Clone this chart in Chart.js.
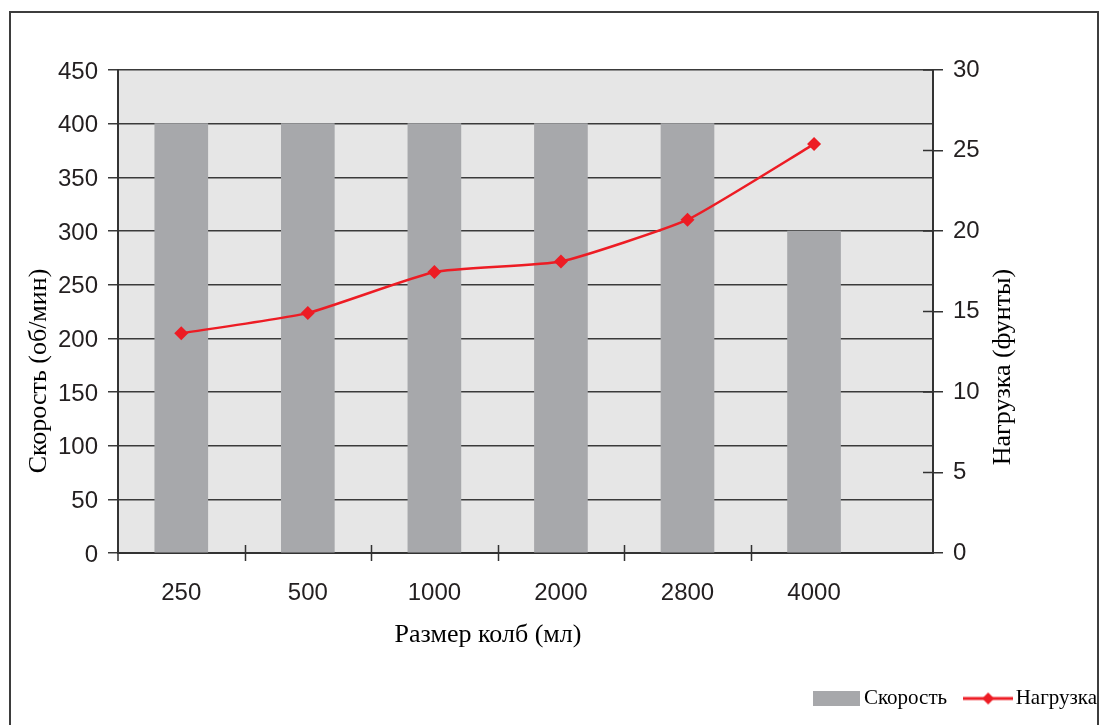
<!DOCTYPE html>
<html lang="ru">
<head>
<meta charset="utf-8">
<title>Скорость и нагрузка</title>
<script src="https://cdn.jsdelivr.net/npm/chart.js@4.4.1/dist/chart.umd.min.js"></script>
<style>
  html, body { margin: 0; padding: 0; background: #fff; overflow: hidden; }
  #frame { position: absolute; left: 9px; top: 11px; width: 1086px; height: 800px; border: 2px solid #3d3d3d; }
  #wrap { position: absolute; left: 0; top: 0; width: 1102px; height: 725px; }
</style>
</head>
<body>
<div id="frame"></div>
<div id="wrap"><canvas id="chart"></canvas></div>
<script>
// flask sizes (ml), shaker speed (rpm) and load (lb)
const sizes = ['250', '500', '1000', '2000', '2800', '4000'];
const speed = [400, 400, 400, 400, 400, 300];
const load = [13.65, 14.9, 17.45, 18.1, 20.7, 25.4];
const speedTicks = [0, 50, 100, 150, 200, 250, 300, 350, 400, 450];
const loadTicks = [0, 5, 10, 15, 20, 25, 30];

// plot box geometry
const plotTop = 70;
const plotBottom = 553;
const plotLeft = 118;
const plotRight = 933;
const padRight = -19;
const padBottom = 6;
const xMax = 6.44; // category axis leaves an empty strip on the right

const tickFont = { family: 'Liberation Sans', size: 24 };
const titleFont = '26px "Liberation Serif"';
const barColor = '#a7a8ab';
const lineColor = '#ed1c24';

// legend icons: grey block and red line with a diamond
function barIcon() {
  const c = document.createElement('canvas');
  c.width = 47; c.height = 15;
  const g = c.getContext('2d');
  g.fillStyle = barColor;
  g.fillRect(0, 0, 47, 15);
  return c;
}
function lineIcon() {
  const c = document.createElement('canvas');
  c.width = 50; c.height = 14;
  const g = c.getContext('2d');
  g.strokeStyle = lineColor;
  g.lineWidth = 3;
  g.beginPath(); g.moveTo(0, 7); g.lineTo(50, 7); g.stroke();
  g.fillStyle = lineColor;
  g.beginPath(); g.moveTo(25, 1); g.lineTo(31, 7); g.lineTo(25, 13); g.lineTo(19, 7); g.closePath(); g.fill();
  return c;
}
const legendIcons = [barIcon(), lineIcon()];

const plotFrame = {
  id: 'plotFrame',
  beforeDraw(chart) {
    const { ctx, chartArea: a } = chart;
    ctx.save();
    ctx.fillStyle = '#e6e6e6';
    ctx.fillRect(a.left, a.top, a.right - a.left, a.bottom - a.top);
    ctx.restore();
  },
  afterDraw(chart) {
    const { ctx, chartArea: a, scales } = chart;
    ctx.save();
    ctx.strokeStyle = '#333';
    ctx.lineWidth = 1.5;
    ctx.beginPath();
    // category boundary ticks across the x axis
    for (let i = 1; i < sizes.length; i++) {
      const x = Math.round(scales.x.getPixelForValue(i)) + 0.5;
      ctx.moveTo(x, a.bottom - 8);
      ctx.lineTo(x, a.bottom + 8);
    }
    // inner half of the right axis ticks
    loadTicks.forEach(v => {
      const y = scales.y1.getPixelForValue(v);
      ctx.moveTo(a.right - 10, y);
      ctx.lineTo(a.right, y);
    });
    // small stub at the origin and a tick under it
    ctx.moveTo(a.left, a.bottom);
    ctx.lineTo(a.left + 8, a.bottom);
    ctx.moveTo(a.left, a.bottom);
    ctx.lineTo(a.left, a.bottom + 8);
    ctx.stroke();

    // axis titles
    ctx.fillStyle = '#000';
    ctx.font = titleFont;
    ctx.textAlign = 'center';
    ctx.textBaseline = 'middle';
    ctx.fillText('Размер колб (мл)', a.left + 370, a.bottom + 82);
    ctx.save();
    ctx.translate(a.left - 79, a.bottom - 182);
    ctx.rotate(-Math.PI / 2);
    ctx.fillText('Скорость (об/мин)', 0, 0);
    ctx.restore();
    ctx.save();
    ctx.translate(a.right + 70, a.bottom - 186);
    ctx.rotate(-Math.PI / 2);
    ctx.fillText('Нагрузка (фунты)', 0, 0);
    ctx.restore();
    ctx.restore();
  }
};

new Chart(document.getElementById('chart'), {
  type: 'bar',
  data: {
    datasets: [{
      label: 'Скорость',
      data: speed.map((v, i) => ({ x: i + 0.5, y: v })),
      backgroundColor: barColor,
      barThickness: 53,
      yAxisID: 'y',
      order: 1
    }, {
      type: 'line',
      label: 'Нагрузка',
      data: load.map((v, i) => ({ x: i + 0.5, y: v })),
      borderColor: lineColor,
      backgroundColor: lineColor,
      borderWidth: 2.5,
      tension: 0.15,
      pointStyle: 'rectRot',
      pointRadius: 7,
      pointBorderWidth: 0,
      yAxisID: 'y1',
      order: 0
    }]
  },
  options: {
    responsive: true,
    maintainAspectRatio: false,
    animation: false,
    layout: { padding: { top: plotTop, left: 0, right: padRight, bottom: padBottom } },
    plugins: {
      tooltip: { enabled: false },
      legend: {
        position: 'bottom',
        align: 'end',
        labels: {
          usePointStyle: true,
          pointStyleWidth: 34,
          padding: 24,
          color: '#000',
          font: { family: 'Liberation Serif', size: 21 },
          generateLabels: chart => chart.data.datasets.map((ds, i) => ({
            text: ds.label,
            datasetIndex: i,
            pointStyle: legendIcons[i],
            fillStyle: 'transparent',
            strokeStyle: 'transparent',
            lineWidth: 0,
            hidden: false
          }))
        }
      }
    },
    scales: {
      x: {
        type: 'linear',
        offset: false,
        min: 0,
        max: xMax,
        afterBuildTicks: s => { s.ticks = sizes.map((_, i) => ({ value: i + 0.5 })); },
        afterFit: s => { s.height = s.chart.height - padBottom - s.chart.legend.height - plotBottom; },
        grid: { display: false },
        border: { display: true, color: '#333', width: 2 },
        ticks: {
          callback: (v, i) => sizes[i],
          autoSkip: false,
          maxRotation: 0,
          font: tickFont,
          color: '#231f20',
          padding: 18
        }
      },
      y: {
        position: 'left',
        min: 0,
        max: 450,
        afterBuildTicks: s => { s.ticks = speedTicks.map(v => ({ value: v })); },
        afterFit: s => { s.width = plotLeft; },
        grid: { color: '#3a3a3a', lineWidth: 1.5, tickLength: 10 },
        border: { color: '#333', width: 2 },
        ticks: { font: tickFont, color: '#231f20', padding: 10, labelOffset: 2 }
      },
      y1: {
        position: 'right',
        min: 0,
        max: 30,
        afterBuildTicks: s => { s.ticks = loadTicks.map(v => ({ value: v })); },
        afterFit: s => { s.width = s.chart.width - padRight - plotRight; },
        grid: { drawOnChartArea: false, color: '#333', lineWidth: 1.5, tickLength: 10 },
        border: { color: '#333', width: 2 },
        ticks: { font: tickFont, color: '#231f20', padding: 10 }
      }
    }
  },
  plugins: [plotFrame]
});
</script>
</body>
</html>
